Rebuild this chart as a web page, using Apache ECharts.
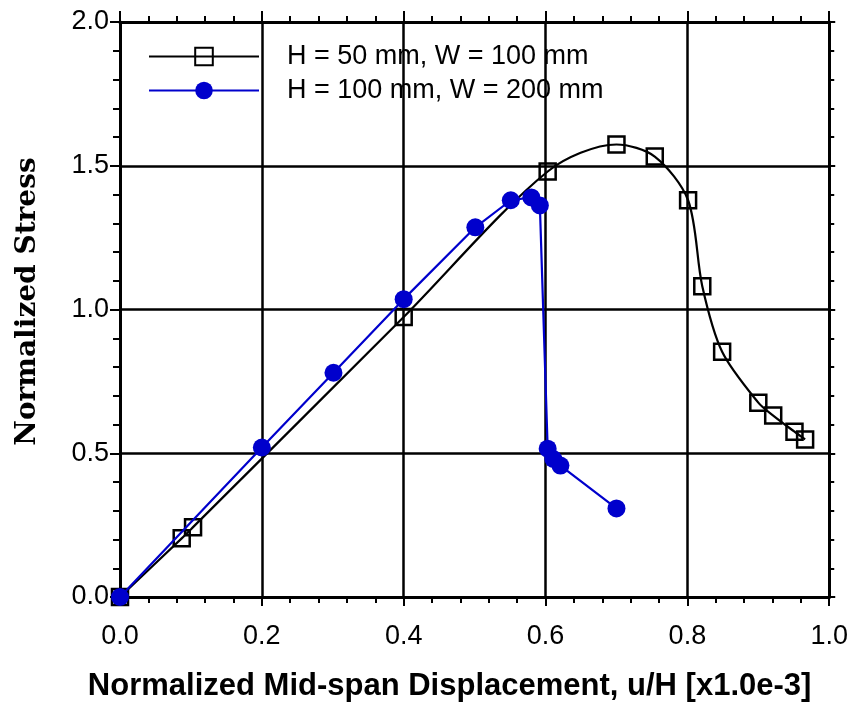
<!DOCTYPE html>
<html>
<head>
<meta charset="utf-8">
<script src="https://cdn.jsdelivr.net/npm/echarts@6/dist/echarts.min.js"></script>
<style>
html,body{margin:0;padding:0;background:#fff;}
#chart{width:851px;height:707px;}
</style>
</head>
<body>
<div id="chart"></div>
<script>
// H = 50 mm, W = 100 mm
var smallX = [0, 0.087, 0.103, 0.4, 0.603, 0.7, 0.754, 0.801, 0.821, 0.849, 0.9, 0.921, 0.951, 0.966];
var smallY = [0, 0.204, 0.243, 0.974, 1.48, 1.574, 1.532, 1.38, 1.081, 0.853, 0.676, 0.631, 0.575, 0.548];
// H = 100 mm, W = 200 mm
var bigX = [0, 0.2, 0.301, 0.4, 0.501, 0.551, 0.58, 0.592, 0.603, 0.611, 0.621, 0.7];
var bigY = [0, 0.52, 0.78, 1.036, 1.286, 1.38, 1.39, 1.362, 0.516, 0.48, 0.457, 0.308];
var seriesNames = ['H = 50 mm, W = 100 mm', 'H = 100 mm, W = 200 mm'];

function pairs(xs, ys){
    var out = [];
    for(var i=0;i<xs.length;i++){
        out.push([xs[i], ys[i]]);
    }
    return out;
}

var sans = 'Liberation Sans, Arial, sans-serif';
var axisLine = {show:true, onZero:false, lineStyle:{color:'#000', width:3}};
var minorTick = {show:true, splitNumber:5, length:6, lineStyle:{color:'#000', width:2}};

var myChart = echarts.init(document.getElementById('chart'));
var option = {
    animation:false,
    backgroundColor:'#fff',
    grid:{left:120, right:21, top:22, bottom:108, containLabel:false},
    legend:{
        orient:'vertical',
        left:143,
        top:38,
        itemWidth:110,
        itemHeight:22,
        itemGap:7,
        data:seriesNames,
        textStyle:{fontFamily:sans, fontSize:27, color:'#000', padding:[0,0,0,23]}
    },
    xAxis:[
        {
            type:'value', min:0, max:1, interval:0.2,
            name:'Normalized Mid-span Displacement, u/H [x1.0e-3]',
            nameLocation:'middle', nameGap:74,
            nameTextStyle:{fontFamily:sans, fontSize:31, fontWeight:'bold', color:'#000', padding:[0,50,0,0]},
            axisLine:axisLine,
            axisTick:{show:true, length:9, lineStyle:{color:'#000', width:2}},
            minorTick:minorTick,
            axisLabel:{fontFamily:sans, fontSize:27, color:'#000', margin:26,
                formatter:function(v){return v.toFixed(1);}},
            splitLine:{show:true, lineStyle:{color:'#000', width:2.5}}
        },
        {
            type:'value', position:'top', min:0, max:1, interval:0.2,
            axisLine:axisLine,
            axisTick:{show:true, length:11, lineStyle:{color:'#000', width:2}},
            minorTick:minorTick,
            axisLabel:{show:false},
            splitLine:{show:false}
        }
    ],
    yAxis:[
        {
            type:'value', min:0, max:2, interval:0.5,
            name:'Normalized Stress',
            nameLocation:'middle', nameGap:78,
            nameTextStyle:{fontFamily:'DejaVu Serif, serif', fontSize:28, fontWeight:'bold', color:'#000', padding:[0,0,0,16]},
            axisLine:axisLine,
            axisTick:{show:true, length:10, lineStyle:{color:'#000', width:2}},
            minorTick:{show:true, splitNumber:5, length:7, lineStyle:{color:'#000', width:2}},
            axisLabel:{fontFamily:sans, fontSize:27, color:'#000', margin:11,
                formatter:function(v){return v.toFixed(1);}},
            splitLine:{show:true, lineStyle:{color:'#000', width:2.5}}
        },
        {
            type:'value', position:'right', min:0, max:2, interval:0.5,
            axisLine:axisLine,
            axisTick:{show:true, length:6, lineStyle:{color:'#000', width:2}},
            minorTick:{show:true, splitNumber:5, length:5, lineStyle:{color:'#000', width:2}},
            axisLabel:{show:false},
            splitLine:{show:false}
        }
    ],
    series:[
        {
            name:seriesNames[0],
            type:'line',
            smooth:0.3,
            data:pairs(smallX, smallY),
            symbol:'rect',
            symbolSize:16,
            lineStyle:{color:'#000', width:2.2},
            itemStyle:{color:'rgba(0,0,0,0)', borderColor:'#000', borderWidth:2.5},
            z:3
        },
        {
            name:seriesNames[1],
            type:'line',
            data:pairs(bigX, bigY),
            symbol:'circle',
            symbolSize:18,
            lineStyle:{color:'#0000cc', width:2.2},
            itemStyle:{color:'#0000cc', borderWidth:0},
            z:4
        }
    ]
};
myChart.setOption(option);
</script>
</body>
</html>
